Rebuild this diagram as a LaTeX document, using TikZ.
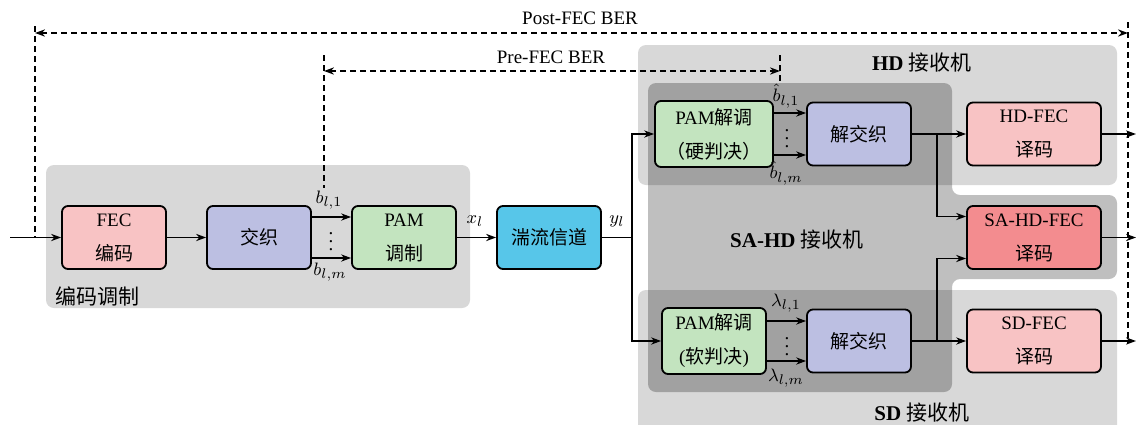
\documentclass[tikz,border=0pt]{standalone}
\usepackage{fontspec}
\usepackage{amsmath}
\setmainfont{Liberation Serif}
\newfontfamily\cjk{Noto Sans CJK SC}
\usetikzlibrary{arrows.meta}
\definecolor{rosa}{HTML}{F8C3C4}
\definecolor{rosso}{HTML}{F38C8F}
\definecolor{lilla}{HTML}{BCBFE2}
\definecolor{verde}{HTML}{C3E4BF}
\definecolor{ciano}{HTML}{57C6E9}
\definecolor{grigio}{HTML}{D8D8D8}

\begin{document}
\begin{tikzpicture}[x=0.5pt, y=-0.5pt, >={Stealth[length=5pt,width=3.6pt]},
    font=\fontsize{9.5}{17}\selectfont,
    blocco/.style={draw, line width=0.9pt, rounded corners=3pt, minimum width=52pt, minimum height=31.5pt, align=center, inner sep=1pt},
    etichetta/.style={inner sep=0.5pt},
    linea/.style={line width=0.8pt},
    misura/.style={line width=0.8pt, dash pattern=on 3pt off 2pt},
    sfondo/.style={fill=grigio, rounded corners=4pt},
    titolo/.style={font=\fontsize{10.5}{12}\selectfont\bfseries}]
              \useasboundingbox (0,0) rectangle (1136,424);

              \fill [sfondo] (46,165) rectangle (470,308);
              \fill [sfondo] (638,45) rectangle (1117,185);
              \fill [sfondo] (638,290) rectangle (1117,440);
              \fill [black, fill opacity=0.25, rounded corners=4pt] (648,83) -- (952,83) -- (952,195) -- (1117,195) -- (1117,279) -- (952,279) -- (952,392) -- (648,392) -- cycle;

              \node [titolo] (tmod) at (97,296) {{\mdseries\cjk 编码调制}};
              \node [titolo] (thd) at (922,63) {HD {\mdseries\cjk 接收机}};
              \node [titolo] (tsa) at (797,240) {SA-HD {\mdseries\cjk 接收机}};
              \node [titolo] (tsd) at (922,413) {SD {\mdseries\cjk 接收机}};

              \node [blocco, fill=rosa] (fec) at (114,237.5) {FEC\\{\cjk 编码}};
              \node [blocco, fill=lilla] (jiaozhi) at (259,237.5) {{\cjk 交织}};
              \node [blocco, fill=verde] (tiaozhi) at (404,237.5) {PAM\\{\cjk 调制}};
              \node [blocco, fill=ciano] (xindao) at (549,237.5) {{\cjk 湍流信道}};
              \node [blocco, fill=verde, minimum width=59pt, minimum height=33pt] (jietiao1) at (714,134) {PAM{\cjk 解调}\\{\cjk （硬判决）}};
              \node [blocco, fill=lilla] (jiejiao1) at (859,134) {{\cjk 解交织}};
              \node [blocco, fill=rosa, minimum width=67pt] (hdfec) at (1034,134) {HD-FEC\\{\cjk 译码}};
              \node [blocco, fill=rosso, minimum width=67pt] (safec) at (1034,237.5) {SA-HD-FEC\\{\cjk 译码}};
              \node [blocco, fill=verde, minimum height=33pt] (jietiao2) at (714,341) {PAM{\cjk 解调}\\({\cjk 软判决})};
              \node [blocco, fill=lilla] (jiejiao2) at (859,341) {{\cjk 解交织}};
              \node [blocco, fill=rosa, minimum width=67pt] (sdfec) at (1034,341) {SD-FEC\\{\cjk 译码}};

              \node [etichetta] (b1) at (329,200) {$b_{l,1}$};
              \node [etichetta] (bm) at (330,272) {$b_{l,m}$};
              \node [etichetta] (bd) at (331,236) {$\vdots$};
              \node [etichetta] (xl) at (475,221) {$x_l$};
              \node [etichetta] (yl) at (617,221) {$y_l$};
              \node [etichetta] (hb1) at (786,96) {$\hat{b}_{l,1}$};
              \node [etichetta] (hbm) at (786,173) {$\hat{b}_{l,m}$};
              \node [etichetta] (hbd) at (787,133) {$\vdots$};
              \node [etichetta] (la1) at (786,303) {$\lambda_{l,1}$};
              \node [etichetta] (lam) at (786,378) {$\lambda_{l,m}$};
              \node [etichetta] (lad) at (787,341) {$\vdots$};
              \node (post) at (580,18) {Post-FEC BER};
              \node (pre) at (551,57) {Pre-FEC BER};

              \coordinate (ingresso) at (10,237.5);
              \coordinate (ramo) at (632,237.5);
              \coordinate (ramo1) at (937,134);
              \coordinate (ramo2) at (937,341);
              \coordinate (uscita1) at (1136,134);
              \coordinate (uscita2) at (1136,237.5);
              \coordinate (uscita3) at (1136,341);
              \coordinate (postL) at (35,237.5);
              \coordinate (postLa) at (35,26);
              \coordinate (postLb) at (35,33);
              \coordinate (postR) at (1128,343);
              \coordinate (postRa) at (1128,22);
              \coordinate (postRb) at (1128,33);
              \coordinate (preL) at (324,188);
              \coordinate (preLa) at (324,55);
              \coordinate (preLb) at (324,71);
              \coordinate (preR) at (780,84);
              \coordinate (preRa) at (780,55);
              \coordinate (preRb) at (780,71);

              \draw [linea, ->] (ingresso) -- (fec);
              \draw [linea, ->] (fec) -- (jiaozhi);
              \draw [linea, ->] ([yshift=10.25pt]jiaozhi.east) -- ([yshift=10.25pt]tiaozhi.west);
              \draw [linea, ->] ([yshift=-10.25pt]jiaozhi.east) -- ([yshift=-10.25pt]tiaozhi.west);
              \draw [linea, ->] (tiaozhi) -- (xindao);
              \draw [linea] (xindao.east) -- (ramo);
              \draw [linea, ->] (ramo) |- (jietiao1.west);
              \draw [linea, ->] (ramo) |- (jietiao2.west);
              \draw [linea, ->] ([yshift=10.5pt]jietiao1.east) -- ([yshift=10.5pt]jiejiao1.west);
              \draw [linea, ->] ([yshift=-10.5pt]jietiao1.east) -- ([yshift=-10.5pt]jiejiao1.west);
              \draw [linea, ->] ([yshift=10pt]jietiao2.east) -- ([yshift=10pt]jiejiao2.west);
              \draw [linea, ->] ([yshift=-10pt]jietiao2.east) -- ([yshift=-10pt]jiejiao2.west);
              \draw [linea, ->] (jiejiao1) -- (hdfec);
              \draw [linea, ->] (jiejiao2) -- (sdfec);
              \draw [linea, ->] (ramo1) |- ([yshift=10.5pt]safec.west);
              \draw [linea, ->] (ramo2) |- ([yshift=-10.5pt]safec.west);
              \draw [linea, ->] (hdfec) -- (uscita1);
              \draw [linea, ->] (safec) -- (uscita2);
              \draw [linea, ->] (sdfec) -- (uscita3);

              \draw [misura] (postLa) -- (postL);
              \draw [misura] (postRa) -- (postR);
              \draw [misura, <->] (postLb) -- (postRb);
              \draw [misura] (preLa) -- (preL);
              \draw [misura] (preRa) -- (preR);
              \draw [misura, <->] (preLb) -- (preRb);

            \end{tikzpicture}
\end{document}
